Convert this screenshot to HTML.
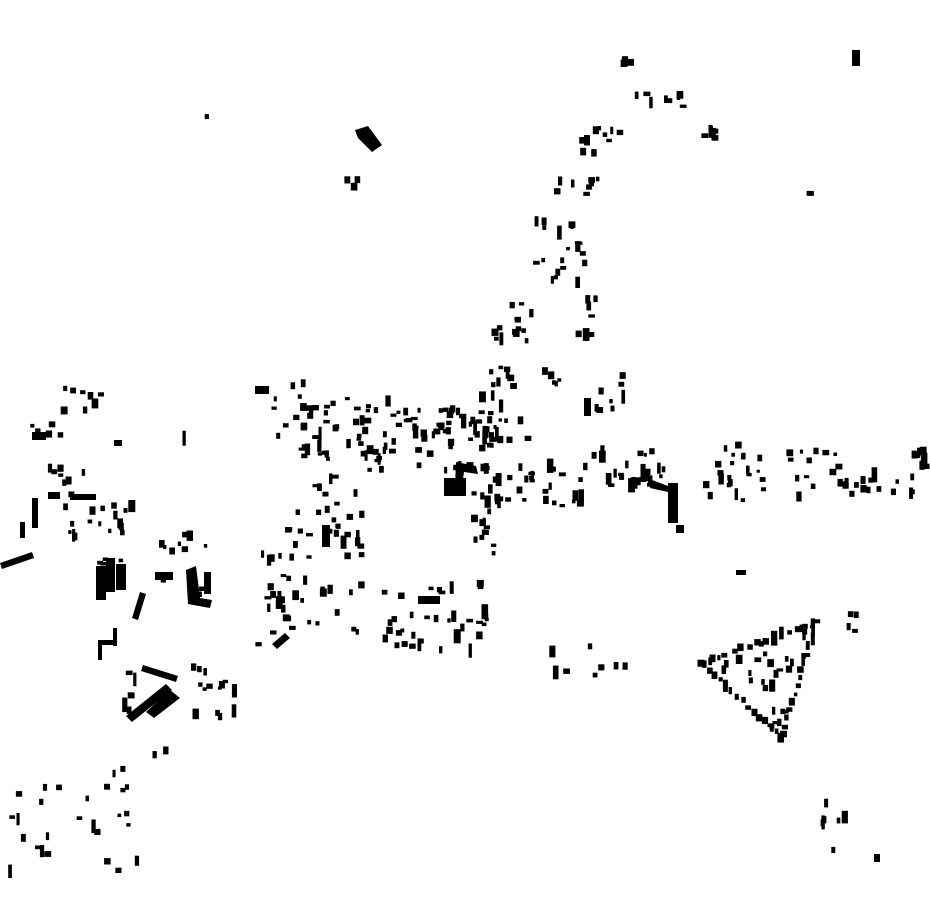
<!DOCTYPE html>
<html><head><meta charset="utf-8"><style>html,body{margin:0;padding:0;background:#fff;width:930px;height:924px;overflow:hidden}svg{display:block}</style></head>
<body>
<svg id="m" width="930" height="924" viewBox="0 0 930 924" xmlns="http://www.w3.org/2000/svg">
<g fill="#000">
<polygon points="355,130 368,126 382,145 372,152 358,138"/>
<rect x="444" y="478" width="22" height="18"/>
<polygon points="456,462 476,466 478,474 464,472 462,486 455,486"/>
<rect x="668" y="483" width="10" height="40"/>
<rect x="676" y="525" width="8" height="8"/>
<polygon points="652,480 668,486 668,492 650,488"/>
<polygon points="0,563 32,552 34,558 2,569"/>
<rect x="32" y="498" width="6" height="30"/>
<rect x="20" y="522" width="5" height="16"/>
<rect x="70" y="494" width="26" height="6"/>
<rect x="48" y="492" width="12" height="7"/>
<rect x="96" y="566" width="10" height="34"/>
<rect x="106" y="558" width="9" height="34"/>
<rect x="116" y="564" width="10" height="26"/>
<polygon points="132,618 140,592 146,594 138,620"/>
<rect x="155" y="572" width="18" height="8"/>
<polygon points="186,570 196,566 200,598 212,600 210,608 188,604"/>
<rect x="204" y="572" width="7" height="22"/>
<polygon points="143,665 178,676 176,682 141,671"/>
<polygon points="126,716 166,684 172,690 132,722"/>
<polygon points="146,712 170,690 180,698 154,718"/>
<rect x="98" y="640" width="18" height="5"/><rect x="98" y="640" width="4" height="20"/><rect x="113" y="628" width="4" height="18"/>
<polygon points="272,644 285,633 290,638 277,649"/>
<rect x="322" y="525" width="8" height="22"/>
<rect x="584" y="398" width="7" height="18"/>
<rect x="736" y="570" width="10" height="5"/>
<rect x="32" y="432" width="14" height="8"/>
<rect x="114" y="440" width="8" height="6"/>
<rect x="852" y="50" width="8" height="16"/>
<rect x="874" y="854" width="6" height="8"/>
<rect x="255" y="386" width="14" height="8"/>
<rect x="418" y="596" width="22" height="8"/>
</g>
<g id="r" fill="#000"></g>
</svg>
<script>
var s=12345;function rnd(){s=(s*16807)%2147483647;return s/2147483647;}
var C=[
[620,57,16,10,3],[632,88,55,22,8],[698,126,28,16,6],[578,122,50,40,10],[553,176,55,22,8],
[530,218,62,75,20],[574,292,26,58,8],[505,295,30,55,8],[488,322,40,30,6],[478,360,55,95,22],
[538,368,26,20,5],[588,372,40,45,8],[338,176,24,14,3],[805,190,10,10,2],
[265,380,60,75,12],[300,395,120,70,45],[360,405,140,70,42],[420,405,80,40,18],[480,455,80,50,18],
[540,460,50,50,12],[590,440,70,50,16],[620,465,50,25,10],[700,440,70,65,22],[785,445,60,60,14],
[840,470,85,30,16],[905,440,25,30,8],[470,490,35,72,16],
[60,385,60,30,8],[28,420,40,20,5],[45,462,55,40,8],[60,500,75,40,18],[95,540,35,60,6],
[150,530,60,25,8],[155,560,60,50,5],[120,655,20,60,6],[190,660,50,60,14],[180,435,10,8,1],
[255,490,110,160,48],[310,470,60,80,16],[380,580,110,75,30],[470,605,20,50,6],
[540,640,90,40,8],[845,605,15,45,4],[818,800,45,55,7],
[0,780,140,95,22],[100,765,35,40,5],[150,745,20,15,2],[200,110,10,10,1]
];
var g=document.getElementById('r'),h='';
function R(x,y){var w=3+rnd()*4,ht=3+rnd()*5;if(rnd()<0.2){ht=7+rnd()*8;}h+='<rect x="'+(x-w/2).toFixed(1)+'" y="'+(y-ht/2).toFixed(1)+'" width="'+w.toFixed(1)+'" height="'+ht.toFixed(1)+'"/>';}
C.forEach(function(c){for(var i=0;i<c[4];i++){R(c[0]+3+rnd()*(c[2]-6),c[1]+3+rnd()*(c[3]-6));}});
// SE triangle: edges dotted
var T=[[700,662],[815,620],[780,736]];
for(var k=0;k<3;k++){var a=T[k],b=T[(k+1)%3];for(var t=0;t<1;t+=0.07){R(a[0]+(b[0]-a[0])*t+rnd()*3,a[1]+(b[1]-a[1])*t+rnd()*3);}}
for(var i=0;i<30;i++){var u=rnd(),v=rnd();if(u+v>1){u=1-u;v=1-v;}R(T[0][0]+u*(T[1][0]-T[0][0])+v*(T[2][0]-T[0][0]),T[0][1]+u*(T[1][1]-T[0][1])+v*(T[2][1]-T[0][1]));}
g.innerHTML=h;
</script>
</body></html>
